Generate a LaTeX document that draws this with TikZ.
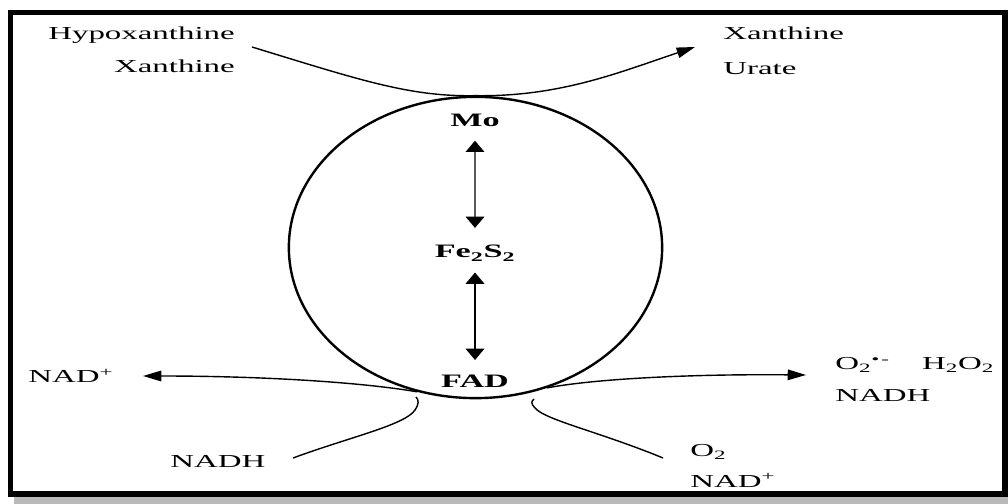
\documentclass[tikz,border=0pt]{standalone}
\usepackage{fontspec}
\newfontfamily\widefont{Liberation Serif}[FakeStretch=1.8]
\usetikzlibrary{arrows.meta,shapes.geometric}

\begin{document}
\begin{tikzpicture}[
    x=0.025cm, y=-0.025cm,
    lbl/.style={font=\widefont\fontsize{13}{15}\selectfont, inner sep=0pt},
    metal/.style={font=\widefont\bfseries\fontsize{13.5}{15}\selectfont,
                  inner sep=0pt},
    flow/.style={-{Triangle[length=13pt,width=7.5pt]}, line width=1pt},
    curve/.style={line width=1pt},
    shuttle/.style={{Triangle[length=8pt,width=13pt,color=black]}-{Triangle[length=8pt,width=13pt,color=black]},
                    line width=1.8pt},
]

    \useasboundingbox (0,0) rectangle (1008,504);
    \fill[gray!55] (14,497) rectangle (1008,504);
    \draw[line width=3.6pt] (10.5,12.5) rectangle (1005,494);

    % enzyme and its redox centres
    \node[draw, ellipse, line width=1.7pt, minimum width=9.33cm,
          minimum height=7.53cm, inner sep=0pt] (enzyme) at (475.5,247.5) {};
    \node[metal, anchor=base] (mo) at (475,127) {Mo};
    \node[metal, anchor=base] (fe) at (475,258) {Fe\textsubscript{2}S\textsubscript{2}};
    \node[metal, anchor=base] (fad) at (475,388) {FAD};
    \draw[shuttle, black!65, shorten <=0.33cm, shorten >=0.43cm] (mo) -- (fe);
    \draw[shuttle, shorten <=0.28cm, shorten >=0.38cm] (fe) -- (fad);

    % substrates and products
    \node[lbl, anchor=base east] (hypo) at (235,40) {Hypoxanthine};
    \node[lbl, anchor=base east] (xan) at (235,73) {Xanthine};
    \node[lbl, anchor=base west] (xanout) at (723,40) {Xanthine};
    \node[lbl, anchor=base west] (urate) at (723,75) {Urate};
    \node[lbl, anchor=base west] (nadp) at (28,383) {NAD\textsuperscript{+}};
    \node[lbl, anchor=base west] (nadh) at (170,468) {NADH};
    \node[lbl, anchor=base west] (ros) at (835,370)
        {O\textsubscript{2}\textsuperscript{•\,-}\hspace{23pt}H\textsubscript{2}O\textsubscript{2}};
    \node[lbl, anchor=base west] (nadhout) at (835,402) {NADH};
    \node[lbl, anchor=base west] (oxy) at (690,457) {O\textsubscript{2}};
    \node[lbl, anchor=base west] (nadpin) at (690,487) {NAD\textsuperscript{+}};

    \coordinate (subin) at (252,47);
    \coordinate (subout) at (695,47);
    \coordinate (nadpend) at (143,376);
    \coordinate (nadhin) at (293,458);
    \coordinate (nadhhook) at (416,397);
    \coordinate (rosend) at (806,375);
    \coordinate (oxyin) at (663,458);
    \coordinate (oxyhook) at (534,399);

    \draw[flow] (subin) .. controls (360,80) and (410,97) .. (enzyme.north)
        .. controls (560,97) and (620,72) .. (subout);
    \draw[flow] (enzyme.-112) .. controls (360,382) and (260,376) .. (nadpend);
    \draw[curve] (nadhin) .. controls (350,437) and (405,425) .. (415,410)
        .. controls (419,404) and (419,400) .. (nadhhook);
    \draw[flow] (enzyme.-63) .. controls (600,378) and (700,374) .. (rosend);
    \draw[curve] (oxyin) .. controls (600,432) and (545,420) .. (535,408)
        .. controls (531,404) and (531,401) .. (oxyhook);

\end{tikzpicture}
\end{document}
